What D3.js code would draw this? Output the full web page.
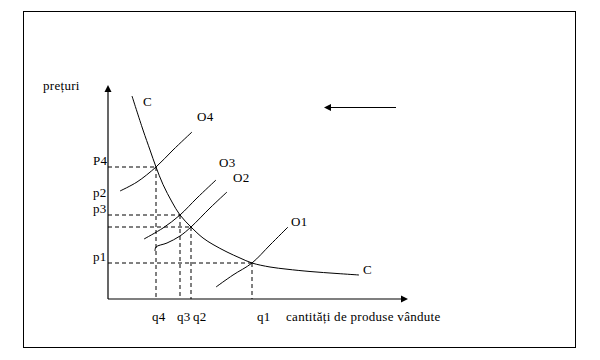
<!DOCTYPE html>
<html>
<head>
<meta charset="utf-8">
<script src="https://cdn.jsdelivr.net/npm/d3@7"></script>
<style>
  html, body { margin: 0; padding: 0; background: #fff; }
  svg { display: block; }
  text { font-family: "Liberation Serif", "Times New Roman", serif; font-size: 13px; letter-spacing: 0.3px; fill: #000; }
</style>
</head>
<body>
<svg id="chart" width="600" height="360"></svg>
<script>
// ---- data (quantity, price) in chart units ----
const demandC = [[24,203],[35,169],[42,149],[48,132],[55,114.5],[64,97],[72,84],[83,72],[95,61],[105,54.5],[119,47],[132,41],[144,36],[162,32],[179,29.8],[202,27.5],[229,25.5],[251,24]];
const supplyO4 = [[12,108],[29,117],[48,132],[65,149],[84,167]];
const supplyO3 = [[36,60],[55,71],[72,84],[89,101],[108,119]];
const supplyO2 = [[47,48],[48,52],[59,56],[72,63],[83,72],[102,91],[119,107]];
const supplyO1 = [[108,12],[125,24],[144,36],[162,54],[180,72]];
const supplyNames = ["O4","O3","O2","O1"];
// equilibrium points (q, p)
const equilibria = [[48,132],[72,84],[83,72],[144,36]];
const priceLabels = ["P4","p2","p3","p1"];
const priceLevels = [132,100,84,36];
const qtyLabels = ["q4","q3","q2","q1"];
const qtyLevels = [48,72,83,144];
const yTitle = "prețuri";
const xTitle = "cantități de produse vândute";
const demandName = "C";

// ---- layout ----
const svg = d3.select("#chart");
const x = d3.scaleLinear().domain([0,300]).range([108,408]);
const y = d3.scaleLinear().domain([0,214]).range([299,85]);

// frame
svg.append("rect").attr("x",23.5).attr("y",11.5).attr("width",552).attr("height",336)
  .attr("fill","none").attr("stroke","#000").attr("stroke-width",1);

// axes
const g = svg.append("g");
g.append("line").attr("x1",x(0)).attr("y1",y(0)).attr("x2",x(0)).attr("y2",y(214)+4)
  .attr("stroke","#000").attr("stroke-width",1.2);
g.append("path").attr("d",`M${x(0)},${y(214)} L${x(0)-3.5},${y(214)+7} L${x(0)+3.5},${y(214)+7} Z`).attr("fill","#000");
g.append("line").attr("x1",x(0)).attr("y1",y(0)).attr("x2",x(300)-4).attr("y2",y(0))
  .attr("stroke","#000").attr("stroke-width",1.2);
g.append("path").attr("d",`M${x(300)},${y(0)} L${x(300)-7},${y(0)-3.5} L${x(300)-7},${y(0)+3.5} Z`).attr("fill","#000");

// dashed guides
equilibria.forEach(([q,p]) => {
  g.append("line").attr("x1",x(0)).attr("x2",x(q)).attr("y1",y(p)).attr("y2",y(p))
    .attr("stroke","#000").attr("stroke-dasharray","4,3");
  g.append("line").attr("x1",x(q)).attr("x2",x(q)).attr("y1",y(p)).attr("y2",y(0))
    .attr("stroke","#000").attr("stroke-dasharray","4,3");
});

// curves
const line = d3.line().x(d => x(d[0])).y(d => y(d[1])).curve(d3.curveCatmullRom.alpha(0.5));
[demandC, supplyO4, supplyO3, supplyO2, supplyO1].forEach(data => {
  g.append("path").datum(data).attr("d", line).attr("fill","none").attr("stroke","#000").attr("stroke-width",1);
});

// curve labels
const supplies = [supplyO4, supplyO3, supplyO2, supplyO1];
const supDx = [5, 3, 6, 3];
const supDy = [-11, -13, -10, -1];
supplies.forEach((s, i) => {
  const end = s[s.length-1];
  g.append("text").attr("x", x(end[0]) + supDx[i]).attr("y", y(end[1]) + supDy[i]).text(supplyNames[i]);
});
g.append("text").attr("x", x(demandC[0][0]) + 11).attr("y", y(demandC[0][1]) + 10).text(demandName);
const cEnd = demandC[demandC.length-1];
g.append("text").attr("x", x(cEnd[0]) + 4).attr("y", y(cEnd[1]) - 1).text(demandName);

// price labels
priceLabels.forEach((t, i) => {
  g.append("text").attr("x", 93).attr("y", y(priceLevels[i]) - 2).text(t);
});
// quantity labels
const qDx = [-4, -3, 2, 5];
qtyLabels.forEach((t, i) => {
  g.append("text").attr("x", x(qtyLevels[i]) + qDx[i]).attr("y", 321).text(t);
});

// titles
g.append("text").attr("x", 43).attr("y", 90).text(yTitle);
g.append("text").attr("x", 286).attr("y", 321).text(xTitle);

// shift arrow
g.append("line").attr("x1",396).attr("y1",107.5).attr("x2",330).attr("y2",107.5).attr("stroke","#000").attr("stroke-width",1.2);
g.append("path").attr("d","M324,107.5 L331,104 L331,111 Z").attr("fill","#000");
</script>
</body>
</html>
